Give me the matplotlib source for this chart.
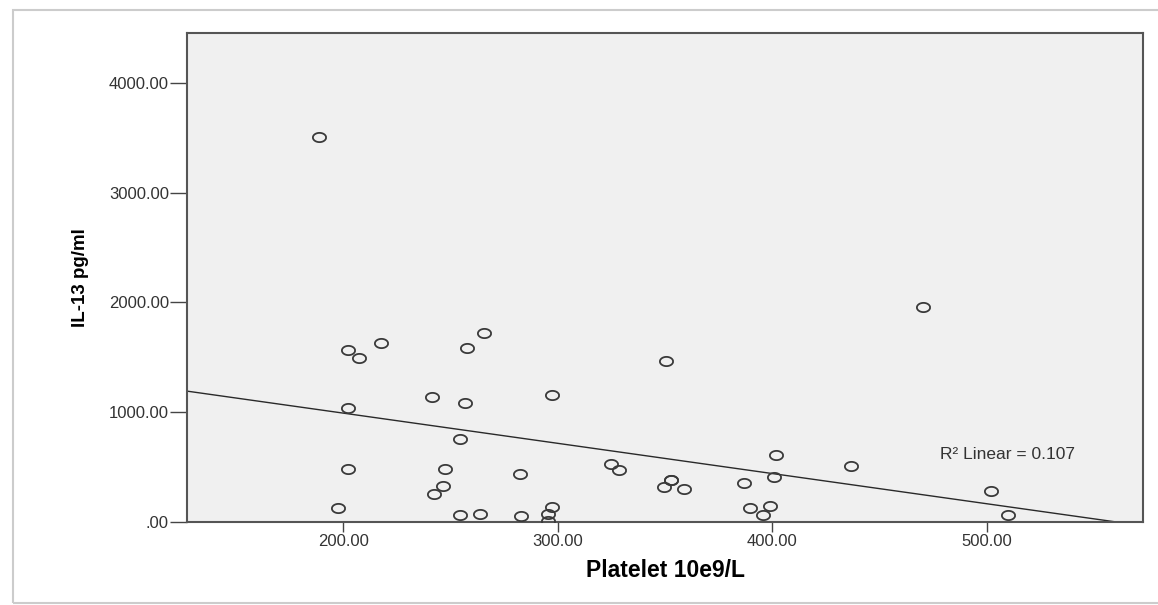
"""Scatter of IL-13 against platelet count with linear fit (SPSS style)"""

import numpy as np
import matplotlib.pyplot as plt
from matplotlib.path import Path
from matplotlib.patches import Rectangle

# Data
platelet = [188.8, 202.3, 207.5, 217.7, 202.3, 202.3, 197.7,
            241.5, 256.8, 257.8, 265.7, 254.5, 247.5, 246.6, 242.4, 254.5, 263.8,
            282.4, 282.9, 297.3, 297.3, 295.5, 295.5,
            324.8, 328.6, 350.4, 349.5, 352.8, 352.8, 358.8,
            386.8, 389.6, 395.6, 398.9, 401.7, 400.7,
            436.6, 470.1, 501.8, 509.7]
il13 = [3509, 1564, 1491, 1627, 1036, 482, 127,
        1136, 1082, 1582, 1718, 755, 482, 327, 255, 64, 73,
        436, 55, 1155, 136, 73, 9,
        527, 473, 1464, 318, 382, 382, 300,
        355, 127, 64, 145, 609, 409,
        509, 1955, 282, 64]

x_ticks = [200, 300, 400, 500]
x_tick_labels = ["200.00", "300.00", "400.00", "500.00"]
y_ticks = [0, 1000, 2000, 3000, 4000]
y_tick_labels = [".00", "1000.00", "2000.00", "3000.00", "4000.00"]
r2_label = "R\u00b2 Linear = 0.107"

plt.rcParams['font.family'] = ['Liberation Sans', 'DejaVu Sans']

fig = plt.figure(figsize=(11.58, 6.05), dpi=100)
ax = fig.add_axes([0.1615, 0.1372, 0.8256, 0.8083])
ax.set_facecolor('#f0f0f0')

# slightly wide ellipse marker (source image is stretched horizontally)
t = np.linspace(0, 2 * np.pi, 60)
ellipse = Path(np.column_stack([np.cos(t), 0.70 * np.sin(t)]))

ax.plot(platelet, il13, linestyle='none', marker=ellipse, markersize=9.5,
        markerfacecolor='none', markeredgecolor='#3a3a3a', markeredgewidth=1.3,
        zorder=3)

# Linear fit across the x range
slope, intercept = np.polyfit(platelet, il13, 1)
xlim = (127.3, 572.7)
fit_x = np.array(xlim)
ax.plot(fit_x, intercept + slope * fit_x, color='#2a2a2a', linewidth=1.0, zorder=2)

ax.set_xlim(*xlim)
ax.set_ylim(0, 4455)

ax.set_xticks(x_ticks)
ax.set_xticklabels(x_tick_labels)
ax.set_yticks(y_ticks)
ax.set_yticklabels(y_tick_labels)
ax.tick_params(axis='x', length=7, width=1.0, pad=2, color='#444444',
               labelsize=12, labelcolor='#333333')
ax.tick_params(axis='y', length=12, width=1.0, pad=1, color='#444444',
               labelsize=12, labelcolor='#333333')

for side in ['left', 'right', 'top', 'bottom']:
    ax.spines[side].set_color('#555555')
    ax.spines[side].set_linewidth(1.5)

ax.set_xlabel('Platelet 10e9/L', fontsize=16.5, fontweight='bold', labelpad=7)
ax.set_ylabel('IL-13 pg/ml', fontsize=13.5, fontweight='bold', labelpad=14)

ax.text(478, 618, r2_label, fontsize=12.5, color='#333333', va='center', ha='left')

# light outer frame of the original screenshot
fig.add_artist(Rectangle((0.0112, 0.0033), 1.0, 0.9802, transform=fig.transFigure,
                         fill=False, edgecolor='#cccccc', linewidth=1.5))

plt.savefig('out.png', dpi=100)
plt.close()
